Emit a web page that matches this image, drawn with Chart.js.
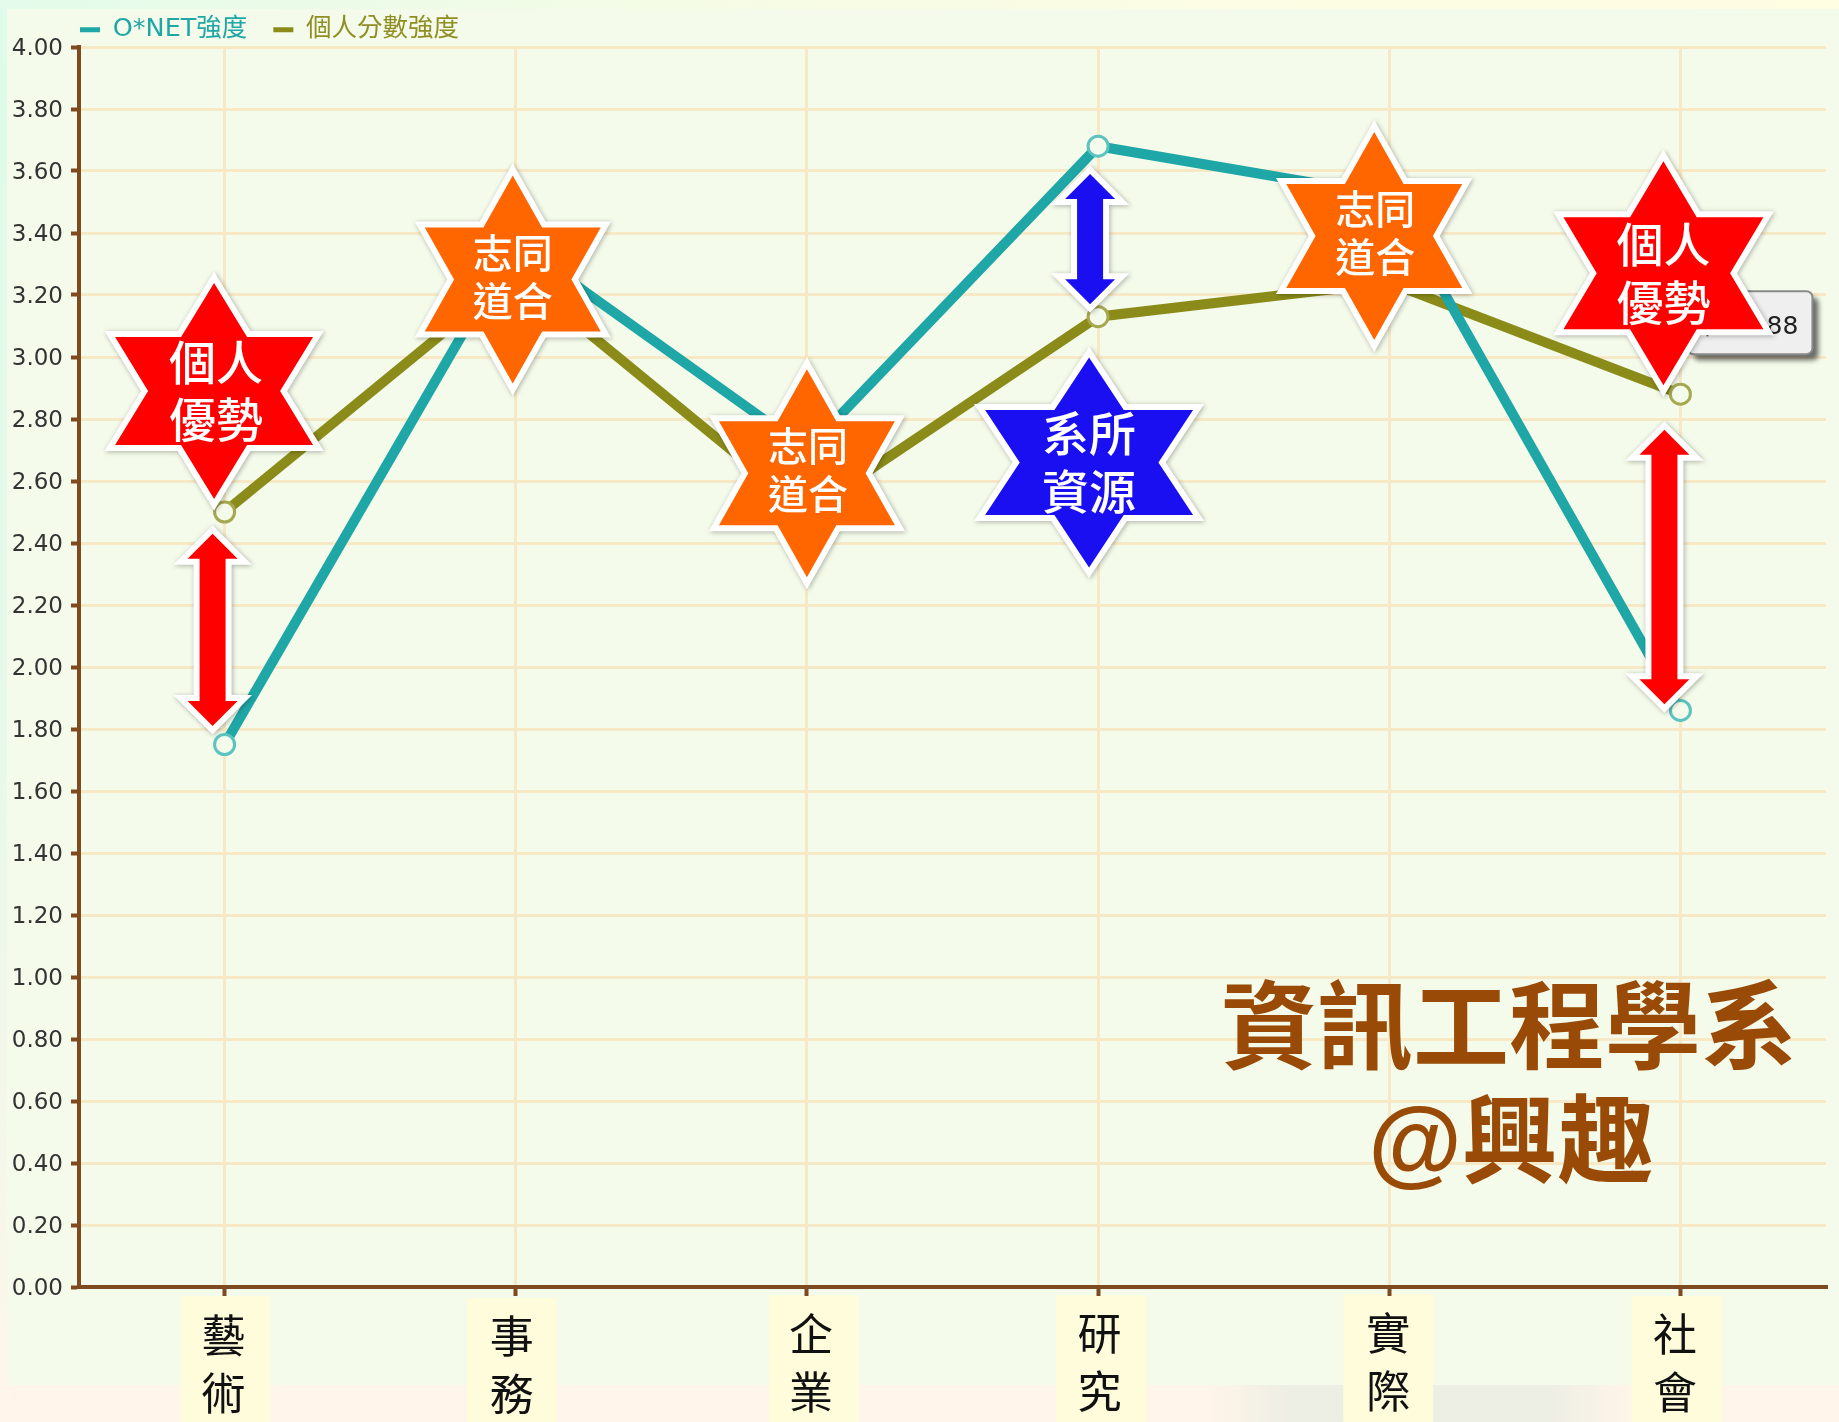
<!DOCTYPE html>
<html><head><meta charset="utf-8">
<style>html,body{margin:0;padding:0;background:#fff}canvas{display:block}</style>
<script src="https://cdn.jsdelivr.net/npm/chart.js@4"></script></head>
<body><canvas id="c" width="1839" height="1422"></canvas>
<script>
const categories = [['藝','術'],['事','務'],['企','業'],['研','究'],['實','際'],['社','會']];
const onetValues = [1.75,3.37,2.70,3.68,3.52,1.86];
const personalValues = [2.50,3.27,2.50,3.13,3.24,2.88];
const seriesNames = ['O*NET強度','個人分數強度'];
const yTicks = [0,0.2,0.4,0.6,0.8,1,1.2,1.4,1.6,1.8,2,2.2,2.4,2.6,2.8,3,3.2,3.4,3.6,3.8,4];
const titleLines = ['資訊工程學系','@興趣'];

const RED='#ff0000',ORANGE='#ff6600',BLUE='#1a0ff0';
const stars=[
 {cat:0,dx:-10.5,v:2.89,rx:99,ry:108,c:RED,t:['個人','優勢'],f:47,lh:57,tx:2,ty:0},
 {cat:1,dx:-3,v:3.25,rx:88,ry:104,c:ORANGE,t:['志同','道合'],f:40,lh:48,tx:0,ty:-3},
 {cat:2,dx:0,v:2.625,rx:88,ry:104,c:ORANGE,t:['志同','道合'],f:40,lh:48,tx:1,ty:-3},
 {cat:4,dx:-15,v:3.39,rx:88,ry:104,c:ORANGE,t:['志同','道合'],f:40,lh:48,tx:1,ty:-3},
 {cat:3,dx:-9,v:2.66,rx:104,ry:105,c:BLUE,t:['系所','資源'],f:47,lh:58,tx:0,ty:0},
 {cat:5,dx:-17,v:3.27,rx:100,ry:112,c:RED,t:['個人','優勢'],f:47,lh:58,tx:0,ty:0}
];
const arrows=[
 {cat:0,dx:-12,v1:2.43,v2:1.81,c:RED},
 {cat:5,dx:-16,v1:2.765,v2:1.88,c:RED},
 {cat:3,dx:-8,v1:3.59,v2:3.17,c:BLUE}
];
const labelShift=[[-1,1],[-4,2],[4,0],[1.5,-1],[-1,-1],[-5.5,0]];
const boxShift=[[1,9],[-4,11],[7,8],[3,8],[-1,7],[-4,9]];

const overlay={
 id:'overlay',
 beforeDraw(ch){
  const g=ch.ctx,W=ch.width,H=ch.height,X=ch.scales.x,Y=ch.scales.y;
  g.save();
  let lg=g.createLinearGradient(0,0,0,H);
  lg.addColorStop(0,'#dffbe9');lg.addColorStop(.5,'#e6f9ea');lg.addColorStop(1,'#fff5ea');
  g.fillStyle=lg;g.fillRect(0,0,W,H);
  lg=g.createLinearGradient(0,0,W,0);
  lg.addColorStop(0,'#e3fbea');lg.addColorStop(.45,'#f8fce4');lg.addColorStop(1,'#fffde2');
  g.fillStyle=lg;g.fillRect(0,0,W,9);
  g.fillStyle='#fff5ea';g.fillRect(7,1385,W,H-1385);
  lg=g.createLinearGradient(1208,0,1630,0);
  lg.addColorStop(0,'rgba(232,236,226,0)');lg.addColorStop(.2,'rgba(232,236,226,.8)');lg.addColorStop(.8,'rgba(232,236,226,.8)');lg.addColorStop(1,'rgba(232,236,226,0)');
  g.fillStyle=lg;g.fillRect(1208,1385,422,H-1385);
  g.fillStyle='#f4fbea';g.fillRect(7,9,W-7,1376);
  g.fillStyle='#fffcdc';
  boxShift.forEach((b,i)=>{const x=X.getPixelForValue(i)+b[0],y=Y.bottom+b[1];g.fillRect(x-45,y,90,H-y);});
  g.restore();
 },
 afterDatasetsDraw(ch){
  const g=ch.ctx,X=ch.scales.x,Y=ch.scales.y;
  const tx=X.getPixelForValue(5)+7,ty=Y.getPixelForValue(personalValues[5])-103;
  g.save();
  g.shadowColor='rgba(60,60,60,.75)';g.shadowOffsetX=6;g.shadowOffsetY=6;g.shadowBlur=5;
  g.fillStyle='#efefef';g.strokeStyle='#8a8a8a';g.lineWidth=2;
  g.beginPath();g.roundRect(tx,ty,125,63,6);g.fill();
  g.shadowColor='transparent';g.stroke();
  g.fillStyle='#222';g.font='25px "DejaVu Sans","Noto Sans CJK TC"';g.textAlign='right';g.textBaseline='middle';
  g.fillText('社: 2.88',tx+111,ty+36);
  g.restore();
  g.save();
  g.textAlign='center';g.textBaseline='middle';g.font='bold 96px "Liberation Sans","Noto Sans CJK TC"';
  g.fillStyle='#994a06';
  g.fillText(titleLines[0],1509,1035);
  g.fillText(titleLines[1],1511,1149);
  g.restore();
  arrows.forEach(a=>{
   const x=X.getPixelForValue(a.cat)+a.dx,y1=Y.getPixelForValue(a.v1),y2=Y.getPixelForValue(a.v2);
   const sw=13,hw=25,hh=25;
   g.save();
   g.shadowColor='rgba(0,0,0,.3)';g.shadowBlur=5;g.shadowOffsetX=1;g.shadowOffsetY=1;
   g.beginPath();
   [[0,y1],[hw,y1+hh],[sw,y1+hh],[sw,y2-hh],[hw,y2-hh],[0,y2],[-hw,y2-hh],[-sw,y2-hh],[-sw,y1+hh],[-hw,y1+hh]]
    .forEach((p,i)=>i?g.lineTo(x+p[0],p[1]):g.moveTo(x+p[0],p[1]));
   g.closePath();
   g.lineJoin='miter';g.miterLimit=10;g.lineWidth=12;g.strokeStyle='#fff';g.stroke();
   g.shadowColor='transparent';g.fillStyle=a.c;g.fill();
   g.restore();
  });
  stars.forEach(s=>{
   const x=X.getPixelForValue(s.cat)+s.dx,y=Y.getPixelForValue(s.v);
   const rx=s.rx,ry=s.ry;
   const pts=[[0,-1],[1/3,-.5],[1,-.5],[2/3,0],[1,.5],[1/3,.5],[0,1],[-1/3,.5],[-1,.5],[-2/3,0],[-1,-.5],[-1/3,-.5]];
   g.save();
   g.shadowColor='rgba(0,0,0,.3)';g.shadowBlur=5;g.shadowOffsetX=1;g.shadowOffsetY=1;
   g.beginPath();
   pts.forEach((p,i)=>i?g.lineTo(x+p[0]*rx,y+p[1]*ry):g.moveTo(x+p[0]*rx,y+p[1]*ry));
   g.closePath();
   g.lineJoin='miter';g.miterLimit=10;g.lineWidth=12;g.strokeStyle='#fff';g.stroke();
   g.shadowColor='transparent';g.fillStyle=s.c;g.fill();
   g.fillStyle='#fff';g.textAlign='center';g.textBaseline='middle';
   g.font='500 '+s.f+'px "Noto Sans CJK TC"';
   g.fillText(s.t[0],x+s.tx,y+s.ty-s.lh/2);
   g.fillText(s.t[1],x+s.tx,y+s.ty+s.lh/2);
   g.restore();
  });
 },
 afterLayout(ch){
  const L=ch.legend;
  L.left=54;L.right=1000;L.top=-9;
  const X=ch.scales.x,Y=ch.scales.y;
  const xc=X._computeLabelItems;
  X._computeLabelItems=function(a){const it=xc.call(this,a);it.forEach((t,i)=>{t.options.translation[0]+=labelShift[i][0];t.options.translation[1]+=labelShift[i][1];});return it;};
  const yc=Y._computeLabelItems;
  Y._computeLabelItems=function(a){const it=yc.call(this,a);it.forEach(t=>{t.options.translation[1]+=2;});return it;};
  X._labelItems=null;Y._labelItems=null;
 }
};

new Chart(document.getElementById('c'),{
 type:'line',
 data:{labels:categories,datasets:[
  {label:seriesNames[0],data:onetValues,borderColor:'#1fa6a6',backgroundColor:'#1fa6a6',borderWidth:10,tension:0,
   pointRadius:10,pointBorderWidth:3,pointBorderColor:'#5cc4c0',pointBackgroundColor:'#f4fbea'},
  {label:seriesNames[1],data:personalValues,borderColor:'#8b8b1a',backgroundColor:'#8b8b1a',borderWidth:10,tension:0,
   pointRadius:10,pointBorderWidth:3,pointBorderColor:'#a5a84f',pointBackgroundColor:'#f4fbea'}
 ]},
 options:{
  responsive:false,animation:false,devicePixelRatio:1,
  layout:{padding:{left:0,right:13,top:0,bottom:0}},
  plugins:{
   tooltip:{enabled:false},
   legend:{position:'top',align:'start',maxHeight:47,
    labels:{boxWidth:20,boxHeight:5,padding:26,font:{size:25.5,family:'"DejaVu Sans","Noto Sans CJK TC"'},
     generateLabels(ch){return ch.data.datasets.map((d,i)=>({text:d.label,fillStyle:d.borderColor,strokeStyle:'transparent',lineWidth:0,fontColor:i?'#8f8f24':'#1fa6a6',datasetIndex:i}));}}}
  },
  scales:{
   x:{offset:true,
    afterFit(s){s.height=135;},
    grid:{color:'#f8e9c6',lineWidth:3,tickColor:'#7e4a1f',tickLength:9,tickWidth:4,offset:false},
    border:{color:'#7e4a1f',width:4},
    ticks:{autoSkip:false,maxRotation:0,minRotation:0,padding:9,color:'#111',
     font:{size:44,family:'"Noto Sans CJK TC"',lineHeight:1.32}}
   },
   y:{min:0,max:4,
    afterFit(s){s.width=79;},
    afterBuildTicks(s){s.ticks=yTicks.map(v=>({value:v}));},
    grid:{color:'#f8e9c6',lineWidth:3,tickColor:'#7e4a1f',tickLength:8,tickWidth:4},
    border:{color:'#7e4a1f',width:4},
    ticks:{padding:8,color:'#333',font:{size:23,family:'"DejaVu Sans"'},callback:v=>Number(v).toFixed(2)}
   }
  }
 },
 plugins:[overlay]
});
</script></body></html>
